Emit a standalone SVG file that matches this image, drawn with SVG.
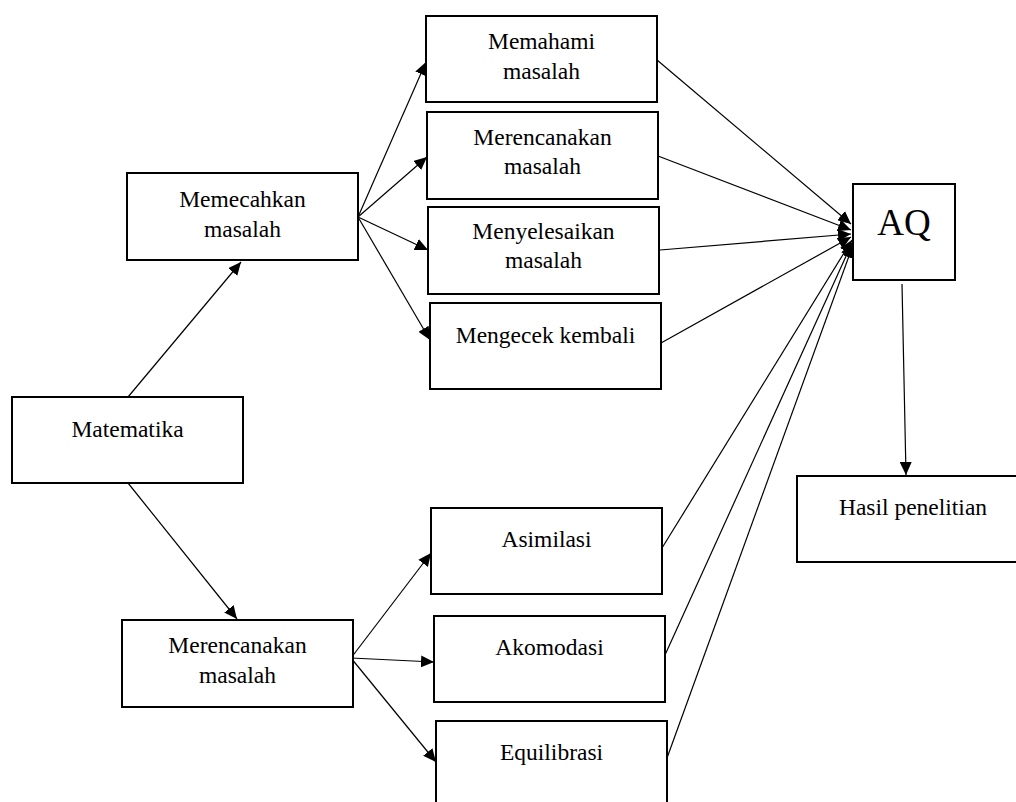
<svg xmlns="http://www.w3.org/2000/svg" width="1016" height="802" viewBox="0 0 1016 802">
<style>
.box{fill:#fff;stroke:#000;stroke-width:2}
.t{font-family:"Liberation Serif","Times New Roman",serif;font-size:23.5px;fill:#000;text-anchor:middle}
.big{font-size:37px}
.c{stroke:#000;stroke-width:1.2;fill:none;marker-end:url(#ah)}
.p{stroke:#000;stroke-width:1.2;fill:none}
</style>
<defs>
<marker id="ah" markerUnits="userSpaceOnUse" markerWidth="14" markerHeight="12" refX="13" refY="6" orient="auto">
<path d="M0,0 L13,6 L0,12 Z" fill="#000"/>
</marker>
</defs>
<rect width="1016" height="802" fill="#fff"/>
<g id="connectors">
<line class="c" x1="128" y1="397" x2="241" y2="262"/>
<line class="c" x1="128" y1="483" x2="237" y2="619"/>
<line class="c" x1="358" y1="217" x2="426" y2="62"/>
<line class="c" x1="358" y1="217" x2="427" y2="157"/>
<line class="c" x1="358" y1="217" x2="428" y2="250"/>
<line class="c" x1="358" y1="217" x2="430" y2="340"/>
<line class="c" x1="351" y1="658" x2="431" y2="553"/>
<line class="c" x1="351" y1="658" x2="434" y2="662"/>
<line class="c" x1="351" y1="658" x2="436" y2="762"/>
<line class="c" x1="657" y1="60" x2="851" y2="224"/>
<line class="c" x1="658" y1="156" x2="851" y2="230"/>
<line class="c" x1="660" y1="250" x2="851" y2="234"/>
<line class="c" x1="661" y1="343" x2="851" y2="237"/>
<line class="c" x1="662" y1="548" x2="852" y2="240"/>
<line class="c" x1="665" y1="655" x2="852" y2="243"/>
<line class="c" x1="667" y1="758" x2="853" y2="245"/>
<line class="c" x1="902" y1="284" x2="906" y2="475"/>
</g>
<g id="matematika"><rect class="box" x="12" y="397" width="231" height="86"/><text class="t" x="127.5" y="437">Matematika</text></g>
<g id="memecahkan"><rect class="box" x="127" y="173" width="231" height="87"/><text class="t" x="242.5" y="207">Memecahkan</text><text class="t" x="242.5" y="237">masalah</text></g>
<g id="merencanakan-bawah"><rect class="box" x="122" y="620" width="231" height="87"/><text class="t" x="237.5" y="653">Merencanakan</text><text class="t" x="237.5" y="683">masalah</text></g>
<g id="memahami"><rect class="box" x="426" y="16" width="231" height="86"/><text class="t" x="541.5" y="49">Memahami</text><text class="t" x="541.5" y="79">masalah</text></g>
<g id="merencanakan-atas"><rect class="box" x="427" y="112" width="231" height="87"/><text class="t" x="542.5" y="145">Merencanakan</text><text class="t" x="542.5" y="174">masalah</text></g>
<g id="menyelesaikan"><rect class="box" x="428" y="207" width="231" height="87"/><text class="t" x="543.5" y="239">Menyelesaikan</text><text class="t" x="543.5" y="268">masalah</text></g>
<g id="mengecek"><rect class="box" x="430" y="303" width="231" height="86"/><text class="t" x="545.5" y="343">Mengecek kembali</text></g>
<g id="asimilasi"><rect class="box" x="431" y="508" width="231" height="86"/><text class="t" x="546.5" y="547">Asimilasi</text></g>
<g id="akomodasi"><rect class="box" x="434" y="616" width="231" height="86"/><text class="t" x="549.5" y="655">Akomodasi</text></g>
<g id="equilibrasi"><rect class="box" x="436" y="721" width="231" height="90"/><text class="t" x="551.5" y="760">Equilibrasi</text></g>
<g id="aq"><rect class="box" x="853" y="184" width="102" height="96"/><text class="t big" x="904" y="235">AQ</text></g>
<g id="hasil"><rect class="box" x="797" y="476" width="233" height="86"/><text class="t" x="913" y="515">Hasil penelitian</text></g>
</svg>
